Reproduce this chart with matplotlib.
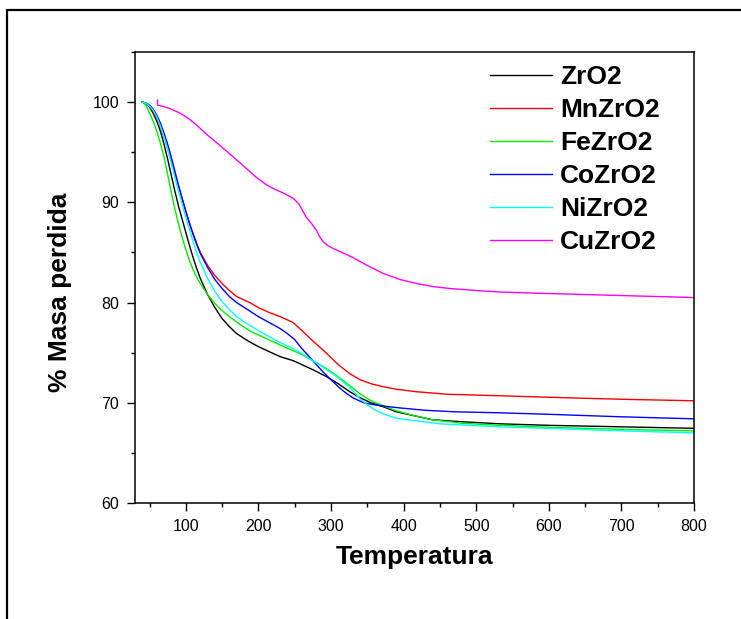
import matplotlib
matplotlib.use("Agg")
import matplotlib.pyplot as plt
from matplotlib.patches import Rectangle
from matplotlib.ticker import MultipleLocator

plt.rcParams['font.family'] = ['Liberation Sans', 'DejaVu Sans']

# Thermogravimetric curves: temperature (°C) vs. remaining mass (%)
zro2_t = [40, 45, 50, 55, 60, 65, 70, 75, 80, 85, 90, 95, 100, 105, 110, 115, 120, 130, 140, 150, 160, 170,
          185, 200, 215, 230, 248, 260, 275, 294, 310, 326, 340, 355, 372, 390, 415, 440, 482, 533, 600, 700, 800]
zro2_m = [100, 99.9, 99.5, 98.9, 98.1, 97.1, 95.8, 94.3, 92.7, 91.1, 89.6, 88.3, 87.0, 85.7, 84.5, 83.4, 82.4,
          80.8, 79.5, 78.4, 77.6, 76.9, 76.2, 75.6, 75.1, 74.6, 74.2, 73.8, 73.3, 72.6, 71.9, 71.1, 70.5, 70.0,
          69.6, 69.1, 68.7, 68.3, 68.1, 67.9, 67.75, 67.6, 67.45]

mn_t = [40, 45, 50, 55, 60, 65, 70, 75, 80, 85, 90, 95, 100, 105, 110, 115, 120, 130, 140, 150, 160, 170,
        188, 200, 215, 230, 248, 260, 276, 290, 300, 310, 326, 340, 355, 372, 390, 418, 460, 533, 600, 700, 800]
mn_m = [100, 99.9, 99.6, 99.1, 98.4, 97.5, 96.5, 95.4, 94.1, 92.8, 91.5, 90.3, 89.1, 87.9, 86.9, 85.9, 85.0,
        83.7, 82.7, 81.9, 81.2, 80.6, 80.0, 79.5, 79.0, 78.6, 78.0, 77.2, 76.1, 75.2, 74.5, 73.8, 72.9, 72.3,
        71.9, 71.6, 71.35, 71.1, 70.85, 70.7, 70.55, 70.35, 70.2]

fe_t = [40, 45, 50, 55, 60, 65, 70, 75, 80, 85, 90, 95, 100, 105, 110, 115, 120, 130, 140, 150, 160, 175,
        190, 205, 220, 235, 248, 260, 275, 294, 310, 326, 340, 355, 372, 390, 415, 440, 482, 533, 600, 700, 800]
fe_m = [100, 99.7, 98.9, 98.1, 97.1, 95.9, 94.5, 92.8, 91.0, 89.3, 87.8, 86.5, 85.3, 84.2, 83.3, 82.5, 81.9,
        80.8, 79.9, 79.2, 78.6, 77.8, 77.1, 76.6, 76.1, 75.6, 75.2, 74.8, 74.2, 73.4, 72.6, 71.7, 70.9, 70.2,
        69.7, 69.2, 68.7, 68.3, 67.95, 67.75, 67.55, 67.35, 67.2]

co_t = [40, 45, 50, 55, 60, 65, 70, 75, 80, 85, 90, 95, 100, 105, 110, 115, 120, 130, 140, 150, 160, 170,
        185, 200, 215, 230, 240, 250, 260, 270, 280, 290, 300, 310, 320, 330, 345, 360, 380, 400, 430, 470,
        533, 600, 700, 800]
co_m = [100, 99.9, 99.7, 99.3, 98.7, 97.9, 96.9, 95.8, 94.5, 93.1, 91.7, 90.4, 89.1, 87.9, 86.8, 85.8, 84.9,
        83.5, 82.3, 81.4, 80.6, 80.0, 79.3, 78.6, 78.0, 77.4, 76.9, 76.3, 75.4, 74.6, 73.8, 73.0, 72.3, 71.6,
        71.0, 70.5, 70.0, 69.8, 69.6, 69.45, 69.25, 69.1, 69.0, 68.85, 68.6, 68.4]

ni_t = [40, 45, 50, 55, 60, 65, 70, 75, 80, 85, 90, 95, 100, 105, 110, 115, 120, 130, 140, 150, 160, 170,
        186, 200, 215, 230, 248, 260, 275, 294, 310, 326, 340, 350, 360, 372, 390, 418, 450, 533, 600, 700, 800]
ni_m = [100, 99.9, 99.6, 99.2, 98.5, 97.6, 96.5, 95.3, 93.9, 92.5, 91.1, 89.8, 88.5, 87.3, 86.1, 85.0, 84.0,
        82.4, 81.1, 80.1, 79.3, 78.6, 77.8, 77.2, 76.6, 76.0, 75.4, 74.9, 74.2, 73.3, 72.5, 71.5, 70.4, 69.8,
        69.3, 68.9, 68.45, 68.2, 67.9, 67.6, 67.45, 67.2, 67.0]

cu_t = [61, 61, 70, 80, 92, 105, 115, 130, 145, 161, 180, 197, 210, 220, 235, 248, 255, 260, 266, 273, 280,
        285, 289, 295, 303, 315, 330, 350, 372, 395, 418, 440, 464, 500, 533, 600, 700, 800]
cu_m = [100.2, 99.7, 99.55, 99.3, 98.9, 98.3, 97.7, 96.7, 95.8, 94.8, 93.6, 92.5, 91.8, 91.4, 90.9, 90.4,
        89.9, 89.3, 88.5, 87.9, 87.2, 86.5, 86.1, 85.7, 85.4, 85.0, 84.5, 83.7, 82.9, 82.3, 81.9, 81.6, 81.4,
        81.2, 81.05, 80.9, 80.7, 80.5]

series = [
    ("ZrO2", zro2_t, zro2_m, "#000000"),
    ("MnZrO2", mn_t, mn_m, "#ff0000"),
    ("FeZrO2", fe_t, fe_m, "#00ee00"),
    ("CoZrO2", co_t, co_m, "#0000ff"),
    ("NiZrO2", ni_t, ni_m, "#00ffff"),
    ("CuZrO2", cu_t, cu_m, "#ff00ff"),
]

fig = plt.figure(figsize=(7.41, 6.19), dpi=100)
ax = fig.add_axes([135 / 741, 1 - 503 / 619, 559 / 741, 451 / 619])

for name, t, m, c in series:
    ax.plot(t, m, color=c, lw=1.0, label=name)

ax.set_xlim(30, 800)
ax.set_ylim(60, 105)
ax.xaxis.set_major_locator(MultipleLocator(100))
ax.xaxis.set_minor_locator(MultipleLocator(50))
ax.set_yticks([60, 70, 80, 90, 100])
ax.yaxis.set_minor_locator(MultipleLocator(5))

ax.tick_params(which='both', direction='out', top=False, right=False,
               labelsize=11.5, width=1.0, pad=5.5)
ax.tick_params(which='major', length=6)
ax.tick_params(which='minor', length=3.2)
for sp in ax.spines.values():
    sp.set_linewidth(1.1)

ax.set_xlabel("Temperatura", fontsize=19, fontweight='bold', va='center')
ax.xaxis.set_label_coords(0.5, 1 - (557 - 52) / 451)
ax.set_ylabel("% Masa perdida", fontsize=19, fontweight='bold', va='center')
ax.yaxis.set_label_coords((60 - 135) / 559, 1 - (292.5 - 52) / 451)

leg = ax.legend(loc='upper left', bbox_to_anchor=((490 - 135) / 559, 1 - (65 - 52) / 451),
                frameon=False, prop={'weight': 'bold', 'size': 19},
                handlelength=2.35, handletextpad=0.3, labelspacing=0.34,
                borderpad=0, borderaxespad=0)

# outer frame around the figure
fig.add_artist(Rectangle((7 / 741, -0.1), 1.2, 1.1 - 10 / 619,
                         transform=fig.transFigure, fill=False,
                         edgecolor='black', lw=1.6, clip_on=False))

fig.savefig("out.png", dpi=100)
